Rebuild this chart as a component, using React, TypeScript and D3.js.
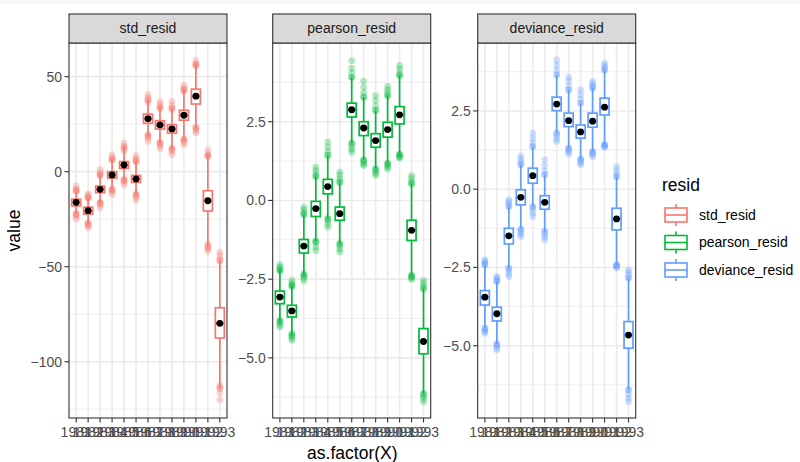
import React from "react";
import * as d3 from "d3";

const years = ["1981", "1982", "1983", "1984", "1985", "1986", "1987", "1988", "1989", "1990", "1991", "1992", "1993"];

// std_resid
const stdMean = [-16.1, -20.5, -9.3, -1.7, 3.5, -3.8, 27.9, 24.6, 22.5, 29.7, 39.7, -15.3, -79.8];
const stdQ1 = [-18, -22.3, -11, -3.4, 1.7, -5.6, 25.5, 22.4, 20.3, 27.1, 35.6, -20.7, -87.5];
const stdQ3 = [-14.5, -18.7, -7.6, 0, 5.3, -2, 30.3, 26.8, 24.7, 32.3, 43.4, -10, -71.6];
const stdHi = [
  [-10, -10, -10.3, -9, -7.5], [-13.8, -13.8, -13.5, -12.5, -11.5], [-1.7, -1.7, -2, -0.5, 1],
  [6.5, 6.5, 6, 7.5, 9], [13.2, 13.2, 12, 11, 15], [5.8, 5.8, 5, 7, 8.5],
  [37.7, 37.7, 36.5, 39, 40.5], [33.9, 33.9, 33, 35.5, 37], [33.4, 33.4, 32.5, 35, 37],
  [43, 43, 42, 44, 45.5], [56.2, 56.2, 55.5, 57, 58.5], [8.4, 8.4, 8, 9.5, 11.5],
  [-46.8, -46.8, -46, -44, -42.5],
];
const stdLo = [
  [-22.4, -22.4, -22, -23.5, -25], [-27.5, -27.5, -27, -28.5, -29.5], [-16.6, -16.6, -16, -17.5, -19],
  [-9.6, -9.6, -9, -10.5, -12], [-4.5, -4.5, -4, -5.5, -7], [-12.3, -12.3, -11.5, -13.5, -15],
  [18.8, 18.8, 19.5, 17.5, 16], [14.9, 14.9, 15.5, 13.5, 12], [11.8, 11.8, 12.5, 10.5, 9],
  [16.7, 16.7, 17.5, 15.5, 14], [22.8, 22.8, 23.5, 21.5, 20.5], [-39.5, -39.5, -38, -40.5, -42],
  [-114, -114, -112.6, -116.5, -120],
];

// pearson_resid
const pearMean = [-3.07, -3.51, -1.45, -0.26, 0.44, -0.42, 2.88, 2.3, 1.9, 2.25, 2.72, -0.95, -4.48];
const pearQ1 = [-3.28, -3.7, -1.67, -0.51, 0.21, -0.63, 2.65, 2.06, 1.69, 2.01, 2.43, -1.27, -4.87];
const pearQ3 = [-2.88, -3.33, -1.24, -0.03, 0.67, -0.21, 3.09, 2.5, 2.12, 2.48, 2.98, -0.63, -4.07];
const pearHi = [
  [-2.2, -2.2, -2.25, -2.12, -2.04], [-2.7, -2.7, -2.75, -2.62, -2.54], [-0.45, -0.45, -0.38, -0.3, -0.22],
  [0.76, 0.76, 0.85, 0.95, 1.06], [1.43, 1.43, 1.55, 1.7, 1.85], [0.58, 0.58, 0.68, 0.8, 0.9],
  [3.91, 3.91, 4.05, 4.2, 4.44], [3.28, 3.28, 3.42, 3.6, 3.79], [2.86, 2.86, 3.0, 3.18, 3.33],
  [3.33, 3.33, 3.42, 3.52, 3.62], [3.97, 3.97, 4.05, 4.18, 4.29], [0.53, 0.53, 0.6, 0.7, 0.79],
  [-2.8, -2.8, -2.72, -2.63, -2.54],
];
const pearLo = [
  [-3.86, -3.86, -3.8, -3.95, -4.02], [-4.29, -4.29, -4.22, -4.37, -4.44], [-2.38, -2.38, -2.32, -2.47, -2.55],
  [-1.29, -1.29, -1.35, -1.48, -1.59], [-0.58, -0.58, -0.65, -0.75, -0.85], [-1.37, -1.37, -1.45, -1.55, -1.64],
  [1.82, 1.82, 1.72, 1.62, 1.53], [1.29, 1.29, 1.22, 1.16, 1.11], [1.0, 1.0, 0.93, 0.86, 0.79],
  [1.18, 1.18, 1.12, 1.06, 1.0], [1.46, 1.46, 1.42, 1.38, 1.35], [-2.38, -2.38, -2.42, -2.46, -2.5],
  [-6.14, -6.14, -6.22, -6.3, -6.4],
];

// deviance_resid
const devMean = [-3.45, -3.98, -1.49, -0.26, 0.43, -0.42, 2.72, 2.19, 1.83, 2.17, 2.62, -0.95, -4.66];
const devQ1 = [-3.7, -4.21, -1.75, -0.5, 0.19, -0.64, 2.51, 2.0, 1.63, 1.98, 2.37, -1.3, -5.08];
const devQ3 = [-3.24, -3.77, -1.25, -0.02, 0.67, -0.21, 2.94, 2.43, 2.05, 2.43, 2.91, -0.61, -4.23];
const devHi = [
  [-2.42, -2.42, -2.36, -2.3, -2.26], [-2.95, -2.95, -2.9, -2.84, -2.79], [-0.55, -0.55, -0.47, -0.4, -0.34],
  [0.78, 0.78, 0.87, 0.96, 1.06], [1.36, 1.36, 1.48, 1.62, 1.79], [0.46, 0.46, 0.58, 0.75, 0.94],
  [3.65, 3.65, 3.8, 3.96, 4.13], [3.17, 3.17, 3.3, 3.45, 3.58], [2.75, 2.75, 2.88, 3.02, 3.17],
  [3.23, 3.23, 3.3, 3.37, 3.44], [3.81, 3.81, 3.88, 3.95, 4.03], [0.4, 0.4, 0.5, 0.6, 0.72],
  [-2.84, -2.84, -2.75, -2.66, -2.58],
];
const devLo = [
  [-4.44, -4.44, -4.5, -4.55, -4.6], [-4.94, -4.94, -5.0, -5.07, -5.13], [-2.52, -2.52, -2.6, -2.7, -2.79],
  [-1.28, -1.28, -1.36, -1.44, -1.51], [-0.56, -0.56, -0.66, -0.77, -0.87], [-1.35, -1.35, -1.44, -1.53, -1.62],
  [1.79, 1.79, 1.7, 1.6, 1.52], [1.31, 1.31, 1.25, 1.19, 1.13], [0.96, 0.96, 0.9, 0.84, 0.78],
  [1.2, 1.2, 1.15, 1.1, 1.04], [1.42, 1.42, 1.39, 1.36, 1.33], [-2.42, -2.42, -2.45, -2.48, -2.52],
  [-6.41, -6.41, -6.55, -6.68, -6.79],
];

const facetNames = ["std_resid", "pearson_resid", "deviance_resid"];
const facetColors = ["#F8766D", "#00BA38", "#619CFF"];

const W = 800;
const H = 462;
const font = "'Liberation Sans', Arial, Helvetica, sans-serif";
const panelTop = 43;
const panelBottom = 418;
const stripTop = 14;
const panelLefts = [69, 272.7, 477.7];
const panelW = 158;

const facets = [
  { mean: stdMean, q1: stdQ1, q3: stdQ3, hi: stdHi, lo: stdLo, domain: [-129.6, 67.7], ticks: [-100, -50, 0, 50], minor: [-125, -75, -25, 25], fmt: d3.format("d") },
  { mean: pearMean, q1: pearQ1, q3: pearQ3, hi: pearHi, lo: pearLo, domain: [-6.91, 5.0], ticks: [-5, -2.5, 0, 2.5], minor: [-6.25, -3.75, -1.25, 1.25, 3.75], fmt: d3.format(".1f") },
  { mean: devMean, q1: devQ1, q3: devQ3, hi: devHi, lo: devLo, domain: [-7.31, 4.67], ticks: [-5, -2.5, 0, 2.5], minor: [-6.25, -3.75, -1.25, 1.25, 3.75], fmt: d3.format(".1f") },
];

const minus = (s: string) => s.replace("-", "\u2212");

function Panel({ idx }: { idx: number }) {
  const f = facets[idx];
  const color = facetColors[idx];
  const left = panelLefts[idx];
  const x = d3
    .scalePoint<string>()
    .domain(years)
    .range([left, left + panelW])
    .padding(0.6);
  const step = x.step();
  const boxW = step * 0.75;
  const y = d3.scaleLinear().domain(f.domain).range([panelBottom, panelTop]);

  return (
    <g>
      <rect x={left} y={panelTop} width={panelW} height={panelBottom - panelTop} fill="white" />
      {f.minor.map((v) => (
        <line key={"mi" + v} x1={left} x2={left + panelW} y1={y(v)} y2={y(v)} stroke="#EBEBEB" strokeWidth={0.8} />
      ))}
      {f.ticks.map((v) => (
        <line key={"ma" + v} x1={left} x2={left + panelW} y1={y(v)} y2={y(v)} stroke="#EBEBEB" strokeWidth={1.6} />
      ))}
      {years.map((yr) => (
        <line key={"vx" + yr} x1={x(yr)} x2={x(yr)} y1={panelTop} y2={panelBottom} stroke="#EBEBEB" strokeWidth={1.6} />
      ))}
      {/* boxplots */}
      {years.map((yr, i) => {
        const cx = x(yr) as number;
        return (
          <g key={"bx" + yr} stroke={color} strokeWidth={1.7}>
            <line x1={cx} x2={cx} y1={y(f.hi[i][0])} y2={y(f.q3[i])} />
            <line x1={cx} x2={cx} y1={y(f.lo[i][0])} y2={y(f.q1[i])} />
            <rect x={cx - boxW / 2} y={y(f.q3[i])} width={boxW} height={y(f.q1[i]) - y(f.q3[i])} fill="white" />
            <line x1={cx - boxW / 2} x2={cx + boxW / 2} y1={y(f.mean[i])} y2={y(f.mean[i])} strokeWidth={2.4} />
          </g>
        );
      })}
      {/* residual points */}
      {years.map((yr, i) =>
        f.hi[i].concat(f.lo[i]).map((v, j) => (
          <circle key={"pt" + yr + j} cx={x(yr)} cy={y(v)} r={3.4} fill={color} opacity={0.3} />
        ))
      )}
      {/* means */}
      {years.map((yr, i) => (
        <circle key={"mn" + yr} cx={x(yr)} cy={y(f.mean[i])} r={3.4} fill="black" />
      ))}
      <rect x={left} y={panelTop} width={panelW} height={panelBottom - panelTop} fill="none" stroke="#333333" strokeWidth={1.1} />
      {/* strip */}
      <rect x={left} y={stripTop} width={panelW} height={panelTop - stripTop} fill="#D9D9D9" stroke="#333333" strokeWidth={1.1} />
      <text x={left + panelW / 2} y={(stripTop + panelTop) / 2} dy="0.35em" textAnchor="middle" fontSize={14} fill="#1A1A1A">
        {facetNames[idx]}
      </text>
      {/* y axis */}
      {f.ticks.map((v) => (
        <g key={"yt" + v}>
          <line x1={left - 4.5} x2={left} y1={y(v)} y2={y(v)} stroke="#333333" strokeWidth={1.1} />
          <text x={left - 7} y={y(v)} dy="0.35em" textAnchor="end" fontSize={14} fill="#4D4D4D">
            {minus(f.fmt(v))}
          </text>
        </g>
      ))}
      {/* x axis */}
      {years.map((yr) => (
        <g key={"xt" + yr}>
          <line x1={x(yr)} x2={x(yr)} y1={panelBottom} y2={panelBottom + 4.5} stroke="#333333" strokeWidth={1.1} />
          <text x={x(yr)} y={panelBottom + 19} textAnchor="middle" fontSize={14} fill="#4D4D4D">
            {yr}
          </text>
        </g>
      ))}
    </g>
  );
}

function LegendKey({ color, cy }: { color: string; cy: number }) {
  const x0 = 665;
  const x1 = 687;
  const cx = (x0 + x1) / 2;
  return (
    <g stroke={color} strokeWidth={1.6} fill="white">
      <line x1={cx} x2={cx} y1={cy - 11} y2={cy - 7} />
      <line x1={cx} x2={cx} y1={cy + 7} y2={cy + 11} />
      <rect x={x0} y={cy - 7} width={x1 - x0} height={14} />
      <line x1={x0} x2={x1} y1={cy} y2={cy} />
    </g>
  );
}

export default function App() {
  const legendY = [215, 242.5, 270];
  return (
    <svg
      width={W}
      height={H}
      style={{ position: "absolute", left: 0, top: 0, fontFamily: font }}
    >
      <rect x={0} y={0} width={W} height={H} fill="white" />
      <rect x={0} y={0} width={W} height={4} fill="#F7F7F7" />
      {facets.map((_, i) => (
        <Panel key={i} idx={i} />
      ))}
      <text x={(panelLefts[0] + panelLefts[2] + panelW) / 2} y={459} textAnchor="middle" fontSize={17.5} fill="black">
        as.factor(X)
      </text>
      <text transform={`translate(20,${(panelTop + panelBottom) / 2}) rotate(-90)`} textAnchor="middle" fontSize={17.5} fill="black">
        value
      </text>
      <text x={662} y={191} fontSize={17.5} fill="black">
        resid
      </text>
      {facetNames.map((n, i) => (
        <g key={n}>
          <LegendKey color={facetColors[i]} cy={legendY[i]} />
          <text x={699} y={legendY[i]} dy="0.35em" fontSize={14} fill="black">
            {n}
          </text>
        </g>
      ))}
    </svg>
  );
}
